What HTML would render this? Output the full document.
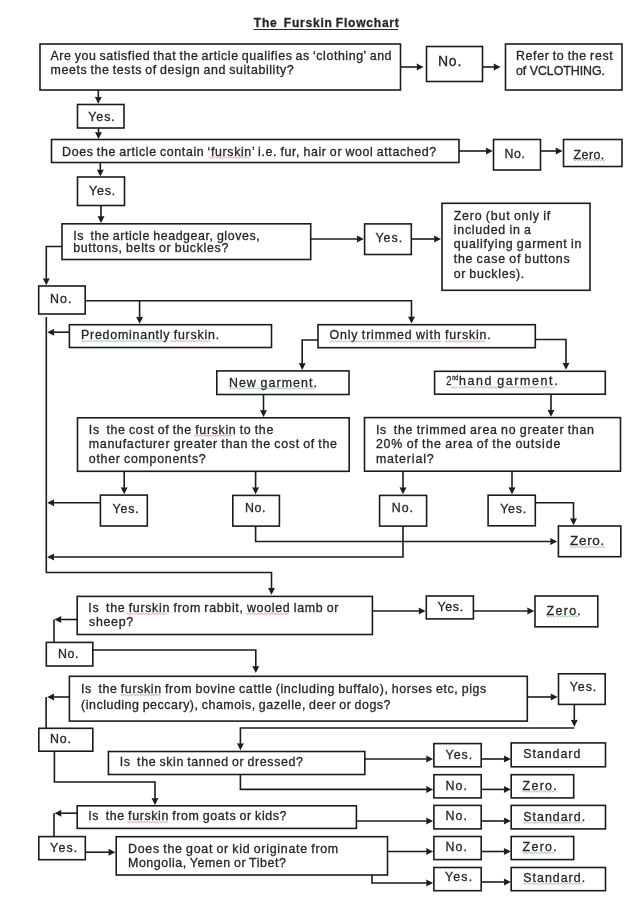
<!DOCTYPE html><html><head><meta charset="utf-8"><title>The Furskin Flowchart</title><style>html,body{margin:0;padding:0;background:#fff;}svg{display:block;will-change:transform;} text{font-family:"Liberation Sans",sans-serif;fill:#262626;stroke:#262626;stroke-width:0.3px;word-spacing:-0.8px;white-space:pre;}</style></head><body>
<svg width="637" height="900" viewBox="0 0 637 900">
<rect x="0" y="0" width="637" height="900" fill="#fff"/>
<g fill="none" stroke="#1c1c1c" stroke-width="1.6"><rect x="40" y="44" width="360.50" height="46.00"/><rect x="426.5" y="46.5" width="56.00" height="35.00"/><rect x="505.5" y="44" width="116.50" height="46.00"/><rect x="77.5" y="104.5" width="46.50" height="23.50"/><rect x="51.5" y="139.5" width="407.50" height="23.00"/><rect x="493.5" y="139.5" width="47.00" height="30.50"/><rect x="563.5" y="139.5" width="58.50" height="27.00"/><rect x="77.5" y="177" width="47.00" height="28.50"/><rect x="62" y="223.8" width="248.70" height="35.70"/><rect x="364.6" y="223.9" width="46.70" height="30.60"/><rect x="442" y="203.3" width="148.00" height="87.00"/><rect x="38.7" y="286" width="46.50" height="28.00"/><rect x="69.4" y="324.7" width="202.10" height="22.80"/><rect x="318" y="324.7" width="217.30" height="23.00"/><rect x="216.8" y="370.9" width="132.20" height="23.60"/><rect x="434.6" y="371.3" width="170.70" height="22.90"/><rect x="77.5" y="417.8" width="271.70" height="53.50"/><rect x="364.5" y="417.6" width="256.00" height="53.60"/><rect x="100.4" y="495.1" width="46.90" height="30.90"/><rect x="232.8" y="495.4" width="46.60" height="30.70"/><rect x="379.6" y="495.4" width="47.00" height="30.70"/><rect x="488.1" y="495.2" width="47.20" height="30.60"/><rect x="558.4" y="526" width="62.40" height="30.70"/><rect x="77.2" y="596.4" width="295.20" height="38.10"/><rect x="426.3" y="596" width="47.10" height="22.90"/><rect x="535" y="596" width="62.80" height="30.80"/><rect x="46.3" y="642.4" width="46.50" height="23.60"/><rect x="69.4" y="676.3" width="457.90" height="44.80"/><rect x="558.5" y="673.8" width="46.70" height="30.60"/><rect x="38.8" y="728.3" width="54.00" height="22.90"/><rect x="108.4" y="751.5" width="256.40" height="23.00"/><rect x="433.9" y="743.6" width="47.30" height="23.20"/><rect x="511.2" y="742.9" width="94.30" height="23.90"/><rect x="433.9" y="774.7" width="47.30" height="23.20"/><rect x="511.2" y="774.7" width="62.50" height="23.20"/><rect x="77.2" y="805.8" width="279.20" height="22.60"/><rect x="433.9" y="805.4" width="47.30" height="23.50"/><rect x="511.2" y="805.4" width="94.30" height="23.50"/><rect x="38.8" y="836.6" width="46.50" height="23.10"/><rect x="116.2" y="836.7" width="271.30" height="38.30"/><rect x="433.9" y="836.5" width="47.30" height="23.10"/><rect x="511.2" y="836.5" width="62.50" height="23.10"/><rect x="433.9" y="867.5" width="47.30" height="23.20"/><rect x="511.2" y="867.5" width="94.30" height="23.20"/></g>
<g fill="none" stroke="#1c1c1c" stroke-width="1.6"><polyline points="400.5,67 418.0,67.0"/><polyline points="482.5,67 495.0,67.0"/><polyline points="98.3,90 98.3,98.2"/><polyline points="98.5,128 98.5,133.4"/><polyline points="459,151 487.2,151.0"/><polyline points="540.5,151 557.0,151.0"/><polyline points="100.3,162.5 100.3,170.8"/><polyline points="101,205.5 101.0,217.4"/><polyline points="310.7,239 358.2,239.0"/><polyline points="411.3,239 435.4,239.0"/><polyline points="62,246.5 46.3,246.5 46.3,279.59999999999997"/><polyline points="85.2,300.7 411.5,300.7 411.5,318.0"/><polyline points="139.6,300.7 139.6,318.2"/><polyline points="69.4,332.2 52.9,332.2"/><polyline points="46.3,317 46.3,572.5 271.5,572.5 271.5,589.1999999999999"/><polyline points="318,340 302.2,340 302.2,364.4"/><polyline points="535.3,339.5 566,339.5 566.0,364.2"/><polyline points="263.5,394.5 263.5,411.4"/><polyline points="551,394.2 551.0,411.2"/><polyline points="124.2,471.3 124.2,488.7"/><polyline points="255.6,471.3 255.6,488.7"/><polyline points="403,471.2 403.0,488.7"/><polyline points="512,471.2 512.0,488.7"/><polyline points="100.4,502.7 52.800000000000004,502.7"/><polyline points="255.6,526.1 255.6,541.5 551.6,541.5"/><polyline points="403,526.1 403,557 52.800000000000004,557.0"/><polyline points="535.3,502.7 573.5,502.7 573.5,519.6999999999999"/><polyline points="372.4,611 420.0,611.0"/><polyline points="473.4,611 528.6,611.0"/><polyline points="77.2,619.5 60.0,619.5"/><polyline points="54,619.5 54,642.4"/><polyline points="92.8,650 255.8,650 255.8,667.4"/><polyline points="527.3,697 552.0,697.0"/><polyline points="574.3,704.4 574.3,721.1999999999999"/><polyline points="574.3,728 240.4,728 240.4,744.6999999999999"/><polyline points="69.4,697 52.800000000000004,697.0"/><polyline points="46.1,697 46.1,728.3"/><polyline points="364.8,759 427.5,759.0"/><polyline points="481.2,759 505.2,759.0"/><polyline points="240.4,774.5 240.4,789.4 427.5,789.4"/><polyline points="481.2,789.4 505.2,789.4"/><polyline points="54.4,751.2 54.4,782 155,782 155.0,799.4"/><polyline points="356.4,821 427.5,821.0"/><polyline points="481.2,821 505.2,821.0"/><polyline points="77.2,813.2 60.1,813.2"/><polyline points="54,813.2 54,836.6"/><polyline points="85.3,852.2 109.80000000000001,852.2"/><polyline points="387.5,851.5 427.5,851.5"/><polyline points="481.2,851.5 505.2,851.5"/><polyline points="372,875 372,883 427.5,883.0"/><polyline points="481.2,882 505.2,882.0"/></g>
<g fill="#1c1c1c" stroke="none"><path d="M423.60,67.00 L416.60,70.50 L417.09,67.00 L416.60,63.50 Z"/><path d="M500.60,67.00 L493.60,70.50 L494.09,67.00 L493.60,63.50 Z"/><path d="M98.30,103.80 L94.80,96.80 L98.30,97.29 L101.80,96.80 Z"/><path d="M98.50,139.00 L95.00,132.00 L98.50,132.49 L102.00,132.00 Z"/><path d="M492.80,151.00 L485.80,154.50 L486.29,151.00 L485.80,147.50 Z"/><path d="M562.60,151.00 L555.60,154.50 L556.09,151.00 L555.60,147.50 Z"/><path d="M100.30,176.40 L96.80,169.40 L100.30,169.89 L103.80,169.40 Z"/><path d="M101.00,223.00 L97.50,216.00 L101.00,216.49 L104.50,216.00 Z"/><path d="M363.80,239.00 L356.80,242.50 L357.29,239.00 L356.80,235.50 Z"/><path d="M441.00,239.00 L434.00,242.50 L434.49,239.00 L434.00,235.50 Z"/><path d="M46.30,285.20 L42.80,278.20 L46.30,278.69 L49.80,278.20 Z"/><path d="M411.50,323.60 L408.00,316.60 L411.50,317.09 L415.00,316.60 Z"/><path d="M139.60,323.80 L136.10,316.80 L139.60,317.29 L143.10,316.80 Z"/><path d="M47.30,332.20 L54.30,328.70 L53.81,332.20 L54.30,335.70 Z"/><path d="M271.50,594.80 L268.00,587.80 L271.50,588.29 L275.00,587.80 Z"/><path d="M302.20,370.00 L298.70,363.00 L302.20,363.49 L305.70,363.00 Z"/><path d="M566.00,369.80 L562.50,362.80 L566.00,363.29 L569.50,362.80 Z"/><path d="M263.50,417.00 L260.00,410.00 L263.50,410.49 L267.00,410.00 Z"/><path d="M551.00,416.80 L547.50,409.80 L551.00,410.29 L554.50,409.80 Z"/><path d="M124.20,494.30 L120.70,487.30 L124.20,487.79 L127.70,487.30 Z"/><path d="M255.60,494.30 L252.10,487.30 L255.60,487.79 L259.10,487.30 Z"/><path d="M403.00,494.30 L399.50,487.30 L403.00,487.79 L406.50,487.30 Z"/><path d="M512.00,494.30 L508.50,487.30 L512.00,487.79 L515.50,487.30 Z"/><path d="M47.20,502.70 L54.20,499.20 L53.71,502.70 L54.20,506.20 Z"/><path d="M557.20,541.50 L550.20,545.00 L550.69,541.50 L550.20,538.00 Z"/><path d="M47.20,557.00 L54.20,553.50 L53.71,557.00 L54.20,560.50 Z"/><path d="M573.50,525.30 L570.00,518.30 L573.50,518.79 L577.00,518.30 Z"/><path d="M425.60,611.00 L418.60,614.50 L419.09,611.00 L418.60,607.50 Z"/><path d="M534.20,611.00 L527.20,614.50 L527.69,611.00 L527.20,607.50 Z"/><path d="M54.40,619.50 L61.40,616.00 L60.91,619.50 L61.40,623.00 Z"/><path d="M255.80,673.00 L252.30,666.00 L255.80,666.49 L259.30,666.00 Z"/><path d="M557.60,697.00 L550.60,700.50 L551.09,697.00 L550.60,693.50 Z"/><path d="M574.30,726.80 L570.80,719.80 L574.30,720.29 L577.80,719.80 Z"/><path d="M240.40,750.30 L236.90,743.30 L240.40,743.79 L243.90,743.30 Z"/><path d="M47.20,697.00 L54.20,693.50 L53.71,697.00 L54.20,700.50 Z"/><path d="M433.10,759.00 L426.10,762.50 L426.59,759.00 L426.10,755.50 Z"/><path d="M510.80,759.00 L503.80,762.50 L504.29,759.00 L503.80,755.50 Z"/><path d="M433.10,789.40 L426.10,792.90 L426.59,789.40 L426.10,785.90 Z"/><path d="M510.80,789.40 L503.80,792.90 L504.29,789.40 L503.80,785.90 Z"/><path d="M155.00,805.00 L151.50,798.00 L155.00,798.49 L158.50,798.00 Z"/><path d="M433.10,821.00 L426.10,824.50 L426.59,821.00 L426.10,817.50 Z"/><path d="M510.80,821.00 L503.80,824.50 L504.29,821.00 L503.80,817.50 Z"/><path d="M54.50,813.20 L61.50,809.70 L61.01,813.20 L61.50,816.70 Z"/><path d="M115.40,852.20 L108.40,855.70 L108.89,852.20 L108.40,848.70 Z"/><path d="M433.10,851.50 L426.10,855.00 L426.59,851.50 L426.10,848.00 Z"/><path d="M510.80,851.50 L503.80,855.00 L504.29,851.50 L503.80,848.00 Z"/><path d="M433.10,883.00 L426.10,886.50 L426.59,883.00 L426.10,879.50 Z"/><path d="M510.80,882.00 L503.80,885.50 L504.29,882.00 L503.80,878.50 Z"/></g>
<g><text x="253.8" y="27" font-size="12" font-weight="bold" textLength="145.0" lengthAdjust="spacing" xml:space="preserve" style="word-spacing:-1px">The  Furskin Flowchart</text><text x="50.5" y="60" font-size="12.4" textLength="341.0" lengthAdjust="spacing" xml:space="preserve">Are you satisfied that the article qualifies as ‘clothing’ and</text><text x="50.5" y="73.5" font-size="12.4" textLength="243.2" lengthAdjust="spacing" xml:space="preserve">meets the tests of design and suitability?</text><text x="438" y="66.4" font-size="14" textLength="23.3" lengthAdjust="spacing" xml:space="preserve">No.</text><text x="516" y="59.7" font-size="12.4" textLength="96.7" lengthAdjust="spacing" xml:space="preserve">Refer to the rest</text><text x="516" y="75.4" font-size="12.4" textLength="89.0" lengthAdjust="spacing" xml:space="preserve" style="word-spacing:0">of VCLOTHING.</text><text x="88.3" y="120.5" font-size="12.4" textLength="26.4" lengthAdjust="spacing" xml:space="preserve">Yes.</text><text x="62.1" y="155.5" font-size="12.4" textLength="374.1" lengthAdjust="spacing" xml:space="preserve">Does the article contain ‘furskin’ i.e. fur, hair or wool attached?</text><text x="504.4" y="158.3" font-size="12.4" textLength="20.5" lengthAdjust="spacing" xml:space="preserve">No.</text><text x="573.6" y="158.6" font-size="12.4" textLength="30.7" lengthAdjust="spacing" xml:space="preserve">Zero.</text><text x="89" y="194.8" font-size="12.4" textLength="26.3" lengthAdjust="spacing" xml:space="preserve">Yes.</text><text x="73.2" y="239.8" font-size="12.4" textLength="186.5" lengthAdjust="spacing" xml:space="preserve">Is  the article headgear, gloves,</text><text x="73.2" y="252.4" font-size="12.4" textLength="155.1" lengthAdjust="spacing" xml:space="preserve">buttons, belts or buckles?</text><text x="375.4" y="241.5" font-size="12.4" textLength="26.9" lengthAdjust="spacing" xml:space="preserve">Yes.</text><text x="453.7" y="220.1" font-size="12.4" textLength="96.6" lengthAdjust="spacing" xml:space="preserve">Zero (but only if</text><text x="453.7" y="234.2" font-size="12.4" textLength="77.2" lengthAdjust="spacing" xml:space="preserve">included in a</text><text x="453.7" y="248.3" font-size="12.4" textLength="127.6" lengthAdjust="spacing" xml:space="preserve">qualifying garment in</text><text x="453.7" y="262.5" font-size="12.4" textLength="116.0" lengthAdjust="spacing" xml:space="preserve">the case of buttons</text><text x="453.7" y="277.5" font-size="12.4" textLength="70.6" lengthAdjust="spacing" xml:space="preserve">or buckles).</text><text x="50" y="302.9" font-size="12.4" textLength="21.5" lengthAdjust="spacing" xml:space="preserve">No.</text><text x="81" y="339" font-size="12.4" textLength="138.1" lengthAdjust="spacing" xml:space="preserve">Predominantly furskin.</text><text x="329.5" y="339.4" font-size="12.4" textLength="161.3" lengthAdjust="spacing" xml:space="preserve">Only trimmed with furskin.</text><text x="228.9" y="386.5" font-size="12.4" textLength="88.0" lengthAdjust="spacing" xml:space="preserve">New garment.</text><text x="446.3" y="385.4" font-size="12.4" textLength="5.2" lengthAdjust="spacingAndGlyphs" xml:space="preserve">2</text><text x="452.2" y="380.2" font-size="6.6" textLength="6.0" lengthAdjust="spacingAndGlyphs" xml:space="preserve">nd</text><text x="459" y="385.4" font-size="12.4" textLength="98.6" lengthAdjust="spacing" xml:space="preserve">hand garment.</text><text x="88.8" y="433.9" font-size="12.4" textLength="184.5" lengthAdjust="spacing" xml:space="preserve">Is  the cost of the furskin to the</text><text x="88.8" y="447.9" font-size="12.4" textLength="248.1" lengthAdjust="spacing" xml:space="preserve">manufacturer greater than the cost of the</text><text x="88.8" y="462.8" font-size="12.4" textLength="116.9" lengthAdjust="spacing" xml:space="preserve">other components?</text><text x="375.9" y="433.8" font-size="12.4" textLength="218.1" lengthAdjust="spacing" xml:space="preserve">Is  the trimmed area no greater than</text><text x="375.9" y="448" font-size="12.4" textLength="184.4" lengthAdjust="spacing" xml:space="preserve">20% of the area of the outside</text><text x="375.9" y="463" font-size="12.4" textLength="57.8" lengthAdjust="spacing" xml:space="preserve">material?</text><text x="112.4" y="512.7" font-size="12.4" textLength="26.4" lengthAdjust="spacing" xml:space="preserve">Yes.</text><text x="244.9" y="512.3" font-size="12.4" textLength="20.6" lengthAdjust="spacing" xml:space="preserve">No.</text><text x="391.7" y="512.3" font-size="12.4" textLength="21.3" lengthAdjust="spacing" xml:space="preserve">No.</text><text x="500.2" y="512.7" font-size="12.4" textLength="25.9" lengthAdjust="spacing" xml:space="preserve">Yes.</text><text x="570" y="544.9" font-size="13.5" textLength="34.3" lengthAdjust="spacing" xml:space="preserve">Zero.</text><text x="88.3" y="612" font-size="12.4" textLength="250.2" lengthAdjust="spacing" xml:space="preserve">Is  the furskin from rabbit, wooled lamb or</text><text x="89.1" y="626" font-size="12.4" textLength="44.0" lengthAdjust="spacing" xml:space="preserve">sheep?</text><text x="437.6" y="610.7" font-size="12.4" textLength="25.5" lengthAdjust="spacing" xml:space="preserve">Yes.</text><text x="546.6" y="614.8" font-size="12.4" textLength="34.2" lengthAdjust="spacing" xml:space="preserve">Zero.</text><text x="58.1" y="658" font-size="12.4" textLength="20.4" lengthAdjust="spacing" xml:space="preserve">No.</text><text x="81" y="693.2" font-size="12.4" textLength="405.3" lengthAdjust="spacing" xml:space="preserve">Is  the furskin from bovine cattle (including buffalo), horses etc, pigs</text><text x="81" y="709" font-size="12.4" textLength="309.5" lengthAdjust="spacing" xml:space="preserve">(including peccary), chamois, gazelle, deer or dogs?</text><text x="569.8" y="691.4" font-size="12.4" textLength="26.5" lengthAdjust="spacing" xml:space="preserve">Yes.</text><text x="50.1" y="742.9" font-size="12.4" textLength="20.9" lengthAdjust="spacing" xml:space="preserve">No.</text><text x="119.7" y="765.5" font-size="12.4" textLength="183.2" lengthAdjust="spacing" xml:space="preserve">Is  the skin tanned or dressed?</text><text x="445.6" y="758.5" font-size="12.4" textLength="26.5" lengthAdjust="spacing" xml:space="preserve">Yes.</text><text x="523.3" y="757.8" font-size="12.4" textLength="57.0" lengthAdjust="spacing" xml:space="preserve">Standard</text><text x="445.6" y="789.6" font-size="12.4" textLength="21.3" lengthAdjust="spacing" xml:space="preserve">No.</text><text x="522.6" y="789.6" font-size="12.4" textLength="34.1" lengthAdjust="spacing" xml:space="preserve">Zero.</text><text x="88.3" y="820.3" font-size="12.4" textLength="198.2" lengthAdjust="spacing" xml:space="preserve">Is  the furskin from goats or kids?</text><text x="445.6" y="819.9" font-size="12.4" textLength="21.3" lengthAdjust="spacing" xml:space="preserve">No.</text><text x="523.3" y="820.9" font-size="12.4" textLength="61.8" lengthAdjust="spacing" xml:space="preserve">Standard.</text><text x="50.1" y="851.7" font-size="12.4" textLength="27.2" lengthAdjust="spacing" xml:space="preserve">Yes.</text><text x="128" y="852.5" font-size="12.4" textLength="210.2" lengthAdjust="spacing" xml:space="preserve">Does the goat or kid originate from</text><text x="128" y="866.5" font-size="12.4" textLength="157.9" lengthAdjust="spacing" xml:space="preserve">Mongolia, Yemen or Tibet?</text><text x="445.6" y="851" font-size="12.4" textLength="21.3" lengthAdjust="spacing" xml:space="preserve">No.</text><text x="522.6" y="851" font-size="12.4" textLength="34.1" lengthAdjust="spacing" xml:space="preserve">Zero.</text><text x="444.9" y="881.4" font-size="12.4" textLength="27.2" lengthAdjust="spacing" xml:space="preserve">Yes.</text><text x="523.3" y="882" font-size="12.4" textLength="61.8" lengthAdjust="spacing" xml:space="preserve">Standard.</text></g>
<g><polyline points="209.0,156.7 210.6,158.1 212.2,156.7 213.8,158.1 215.4,156.7 217.0,158.1 218.6,156.7 220.2,158.1 221.8,156.7 223.4,158.1 225.0,156.7 226.6,158.1 228.2,156.7 229.8,158.1 231.4,156.7 233.0,158.1 234.6,156.7 236.2,158.1 237.8,156.7 239.4,158.1 241.0,156.7 242.6,158.1 244.2,156.7 245.8,158.1 247.4,156.7 249.0,158.1" fill="none" stroke="#d04050" stroke-width="0.7" stroke-opacity="0.75"/><polyline points="573.5,159.4 575.1,160.8 576.7,159.4 578.3,160.8 579.9,159.4 581.5,160.8 583.1,159.4 584.7,160.8 586.3,159.4 587.9,160.8 589.5,159.4 591.1,160.8 592.7,159.4 594.3,160.8 595.9,159.4 597.5,160.8 599.1,159.4 600.7,160.8 602.3,159.4 603.9,160.8 605.5,159.4" fill="none" stroke="#3a9a3a" stroke-width="0.7" stroke-opacity="0.75"/><polyline points="81.6,340.4 83.2,341.8 84.8,340.4 86.4,341.8 88.0,340.4 89.6,341.8 91.2,340.4 92.8,341.8 94.4,340.4 96.0,341.8 97.6,340.4 99.2,341.8 100.8,340.4 102.4,341.8 104.0,340.4 105.6,341.8 107.2,340.4 108.8,341.8 110.4,340.4 112.0,341.8 113.6,340.4 115.2,341.8 116.8,340.4 118.4,341.8 120.0,340.4 121.6,341.8 123.2,340.4 124.8,341.8 126.4,340.4 128.0,341.8 129.6,340.4 131.2,341.8 132.8,340.4 134.4,341.8 136.0,340.4 137.6,341.8 139.2,340.4 140.8,341.8 142.4,340.4 144.0,341.8 145.6,340.4 147.2,341.8 148.8,340.4 150.4,341.8 152.0,340.4 153.6,341.8 155.2,340.4 156.8,341.8 158.4,340.4 160.0,341.8 161.6,340.4 163.2,341.8 164.8,340.4 166.4,341.8" fill="none" stroke="#3a9a3a" stroke-width="0.7" stroke-opacity="0.75"/><polyline points="170.0,340.4 171.6,341.8 173.2,340.4 174.8,341.8 176.4,340.4 178.0,341.8 179.6,340.4 181.2,341.8 182.8,340.4 184.4,341.8 186.0,340.4 187.6,341.8 189.2,340.4 190.8,341.8 192.4,340.4 194.0,341.8 195.6,340.4 197.2,341.8 198.8,340.4 200.4,341.8 202.0,340.4 203.6,341.8 205.2,340.4 206.8,341.8 208.4,340.4 210.0,341.8" fill="none" stroke="#d04050" stroke-width="0.7" stroke-opacity="0.75"/><polyline points="329.0,340.7 330.6,342.1 332.2,340.7 333.8,342.1 335.4,340.7 337.0,342.1 338.6,340.7 340.2,342.1 341.8,340.7 343.4,342.1 345.0,340.7 346.6,342.1 348.2,340.7 349.8,342.1 351.4,340.7 353.0,342.1 354.6,340.7 356.2,342.1 357.8,340.7 359.4,342.1 361.0,340.7 362.6,342.1 364.2,340.7 365.8,342.1 367.4,340.7 369.0,342.1 370.6,340.7 372.2,342.1 373.8,340.7 375.4,342.1 377.0,340.7 378.6,342.1 380.2,340.7 381.8,342.1 383.4,340.7 385.0,342.1 386.6,340.7 388.2,342.1 389.8,340.7 391.4,342.1 393.0,340.7 394.6,342.1 396.2,340.7 397.8,342.1 399.4,340.7 401.0,342.1 402.6,340.7 404.2,342.1 405.8,340.7 407.4,342.1 409.0,340.7 410.6,342.1 412.2,340.7 413.8,342.1 415.4,340.7 417.0,342.1 418.6,340.7 420.2,342.1 421.8,340.7 423.4,342.1 425.0,340.7 426.6,342.1 428.2,340.7 429.8,342.1 431.4,340.7 433.0,342.1 434.6,340.7 436.2,342.1 437.8,340.7 439.4,342.1 441.0,340.7" fill="none" stroke="#3a9a3a" stroke-width="0.7" stroke-opacity="0.75"/><polyline points="445.0,340.7 446.6,342.1 448.2,340.7 449.8,342.1 451.4,340.7 453.0,342.1 454.6,340.7 456.2,342.1 457.8,340.7 459.4,342.1 461.0,340.7 462.6,342.1 464.2,340.7 465.8,342.1 467.4,340.7 469.0,342.1 470.6,340.7 472.2,342.1 473.8,340.7 475.4,342.1 477.0,340.7 478.6,342.1 480.2,340.7 481.8,342.1 483.4,340.7 485.0,342.1" fill="none" stroke="#d04050" stroke-width="0.7" stroke-opacity="0.75"/><polyline points="229.0,387.7 230.6,389.1 232.2,387.7 233.8,389.1 235.4,387.7 237.0,389.1 238.6,387.7 240.2,389.1 241.8,387.7 243.4,389.1 245.0,387.7 246.6,389.1 248.2,387.7 249.8,389.1 251.4,387.7 253.0,389.1 254.6,387.7 256.2,389.1 257.8,387.7 259.4,389.1 261.0,387.7 262.6,389.1 264.2,387.7 265.8,389.1 267.4,387.7 269.0,389.1 270.6,387.7 272.2,389.1 273.8,387.7 275.4,389.1 277.0,387.7 278.6,389.1 280.2,387.7 281.8,389.1 283.4,387.7 285.0,389.1 286.6,387.7 288.2,389.1 289.8,387.7 291.4,389.1 293.0,387.7 294.6,389.1 296.2,387.7 297.8,389.1 299.4,387.7 301.0,389.1 302.6,387.7 304.2,389.1 305.8,387.7 307.4,389.1 309.0,387.7 310.6,389.1 312.2,387.7 313.8,389.1 315.4,387.7" fill="none" stroke="#3a9a3a" stroke-width="0.7" stroke-opacity="0.75"/><polyline points="451.0,386.7 452.6,388.1 454.2,386.7 455.8,388.1 457.4,386.7" fill="none" stroke="#d04050" stroke-width="0.7" stroke-opacity="0.75"/><polyline points="459.0,386.7 460.6,388.1 462.2,386.7 463.8,388.1 465.4,386.7 467.0,388.1 468.6,386.7 470.2,388.1 471.8,386.7 473.4,388.1 475.0,386.7 476.6,388.1 478.2,386.7 479.8,388.1 481.4,386.7 483.0,388.1 484.6,386.7 486.2,388.1 487.8,386.7 489.4,388.1 491.0,386.7 492.6,388.1 494.2,386.7 495.8,388.1 497.4,386.7 499.0,388.1 500.6,386.7 502.2,388.1 503.8,386.7 505.4,388.1 507.0,386.7 508.6,388.1 510.2,386.7 511.8,388.1 513.4,386.7 515.0,388.1 516.6,386.7 518.2,388.1 519.8,386.7 521.4,388.1 523.0,386.7 524.6,388.1 526.2,386.7 527.8,388.1 529.4,386.7 531.0,388.1 532.6,386.7 534.2,388.1 535.8,386.7 537.4,388.1 539.0,386.7 540.6,388.1 542.2,386.7 543.8,388.1 545.4,386.7 547.0,388.1 548.6,386.7 550.2,388.1 551.8,386.7 553.4,388.1 555.0,386.7" fill="none" stroke="#3a9a3a" stroke-width="0.7" stroke-opacity="0.75"/><polyline points="194.0,434.9 195.6,436.3 197.2,434.9 198.8,436.3 200.4,434.9 202.0,436.3 203.6,434.9 205.2,436.3 206.8,434.9 208.4,436.3 210.0,434.9 211.6,436.3 213.2,434.9 214.8,436.3 216.4,434.9 218.0,436.3 219.6,434.9 221.2,436.3 222.8,434.9 224.4,436.3 226.0,434.9 227.6,436.3 229.2,434.9 230.8,436.3 232.4,434.9" fill="none" stroke="#d04050" stroke-width="0.7" stroke-opacity="0.75"/><polyline points="570.0,546.4 571.6,547.8 573.2,546.4 574.8,547.8 576.4,546.4 578.0,547.8 579.6,546.4 581.2,547.8 582.8,546.4 584.4,547.8 586.0,546.4 587.6,547.8 589.2,546.4 590.8,547.8 592.4,546.4 594.0,547.8 595.6,546.4 597.2,547.8 598.8,546.4 600.4,547.8 602.0,546.4 603.6,547.8 605.2,546.4" fill="none" stroke="#3a9a3a" stroke-width="0.7" stroke-opacity="0.75"/><polyline points="127.0,613.2 128.6,614.6 130.2,613.2 131.8,614.6 133.4,613.2 135.0,614.6 136.6,613.2 138.2,614.6 139.8,613.2 141.4,614.6 143.0,613.2 144.6,614.6 146.2,613.2 147.8,614.6 149.4,613.2 151.0,614.6 152.6,613.2 154.2,614.6 155.8,613.2 157.4,614.6 159.0,613.2 160.6,614.6 162.2,613.2 163.8,614.6 165.4,613.2 167.0,614.6" fill="none" stroke="#d04050" stroke-width="0.7" stroke-opacity="0.75"/><polyline points="246.0,613.2 247.6,614.6 249.2,613.2 250.8,614.6 252.4,613.2 254.0,614.6 255.6,613.2 257.2,614.6 258.8,613.2 260.4,614.6 262.0,613.2 263.6,614.6 265.2,613.2 266.8,614.6 268.4,613.2 270.0,614.6 271.6,613.2 273.2,614.6 274.8,613.2 276.4,614.6 278.0,613.2 279.6,614.6 281.2,613.2 282.8,614.6 284.4,613.2 286.0,614.6 287.6,613.2" fill="none" stroke="#d04050" stroke-width="0.7" stroke-opacity="0.75"/><polyline points="546.6,615.7 548.2,617.1 549.8,615.7 551.4,617.1 553.0,615.7 554.6,617.1 556.2,615.7 557.8,617.1 559.4,615.7 561.0,617.1 562.6,615.7 564.2,617.1 565.8,615.7 567.4,617.1 569.0,615.7 570.6,617.1 572.2,615.7 573.8,617.1 575.4,615.7 577.0,617.1 578.6,615.7" fill="none" stroke="#3a9a3a" stroke-width="0.7" stroke-opacity="0.75"/><polyline points="120.5,694.4 122.1,695.8 123.7,694.4 125.3,695.8 126.9,694.4 128.5,695.8 130.1,694.4 131.7,695.8 133.3,694.4 134.9,695.8 136.5,694.4 138.1,695.8 139.7,694.4 141.3,695.8 142.9,694.4 144.5,695.8 146.1,694.4 147.7,695.8 149.3,694.4 150.9,695.8 152.5,694.4 154.1,695.8 155.7,694.4 157.3,695.8 158.9,694.4 160.5,695.8" fill="none" stroke="#d04050" stroke-width="0.7" stroke-opacity="0.75"/><polyline points="522.6,790.7 524.2,792.1 525.8,790.7 527.4,792.1 529.0,790.7 530.6,792.1 532.2,790.7 533.8,792.1 535.4,790.7 537.0,792.1 538.6,790.7 540.2,792.1 541.8,790.7 543.4,792.1 545.0,790.7 546.6,792.1 548.2,790.7 549.8,792.1 551.4,790.7 553.0,792.1 554.6,790.7" fill="none" stroke="#3a9a3a" stroke-width="0.7" stroke-opacity="0.75"/><polyline points="128.0,821.4 129.6,822.8 131.2,821.4 132.8,822.8 134.4,821.4 136.0,822.8 137.6,821.4 139.2,822.8 140.8,821.4 142.4,822.8 144.0,821.4 145.6,822.8 147.2,821.4 148.8,822.8 150.4,821.4 152.0,822.8 153.6,821.4 155.2,822.8 156.8,821.4 158.4,822.8 160.0,821.4 161.6,822.8 163.2,821.4 164.8,822.8 166.4,821.4 168.0,822.8" fill="none" stroke="#d04050" stroke-width="0.7" stroke-opacity="0.75"/><polyline points="523.3,821.9 524.9,823.3 526.5,821.9 528.1,823.3 529.7,821.9 531.3,823.3 532.9,821.9 534.5,823.3 536.1,821.9 537.7,823.3 539.3,821.9 540.9,823.3 542.5,821.9 544.1,823.3 545.7,821.9 547.3,823.3 548.9,821.9 550.5,823.3 552.1,821.9 553.7,823.3 555.3,821.9 556.9,823.3 558.5,821.9 560.1,823.3 561.7,821.9 563.3,823.3 564.9,821.9 566.5,823.3 568.1,821.9 569.7,823.3 571.3,821.9 572.9,823.3 574.5,821.9 576.1,823.3 577.7,821.9 579.3,823.3 580.9,821.9 582.5,823.3" fill="none" stroke="#3a9a3a" stroke-width="0.7" stroke-opacity="0.75"/><polyline points="522.6,852.1 524.2,853.5 525.8,852.1 527.4,853.5 529.0,852.1 530.6,853.5 532.2,852.1 533.8,853.5 535.4,852.1 537.0,853.5 538.6,852.1 540.2,853.5 541.8,852.1 543.4,853.5 545.0,852.1 546.6,853.5 548.2,852.1 549.8,853.5 551.4,852.1 553.0,853.5 554.6,852.1" fill="none" stroke="#3a9a3a" stroke-width="0.7" stroke-opacity="0.75"/><polyline points="523.3,883.0 524.9,884.4 526.5,883.0 528.1,884.4 529.7,883.0 531.3,884.4 532.9,883.0 534.5,884.4 536.1,883.0 537.7,884.4 539.3,883.0 540.9,884.4 542.5,883.0 544.1,884.4 545.7,883.0 547.3,884.4 548.9,883.0 550.5,884.4 552.1,883.0 553.7,884.4 555.3,883.0 556.9,884.4 558.5,883.0 560.1,884.4 561.7,883.0 563.3,884.4 564.9,883.0 566.5,884.4 568.1,883.0 569.7,884.4 571.3,883.0 572.9,884.4 574.5,883.0 576.1,884.4 577.7,883.0 579.3,884.4 580.9,883.0 582.5,884.4" fill="none" stroke="#3a9a3a" stroke-width="0.7" stroke-opacity="0.75"/></g>
<line x1="253.5" y1="29.5" x2="398" y2="29.5" stroke="#262626" stroke-width="1.1"/>
</svg></body></html>
